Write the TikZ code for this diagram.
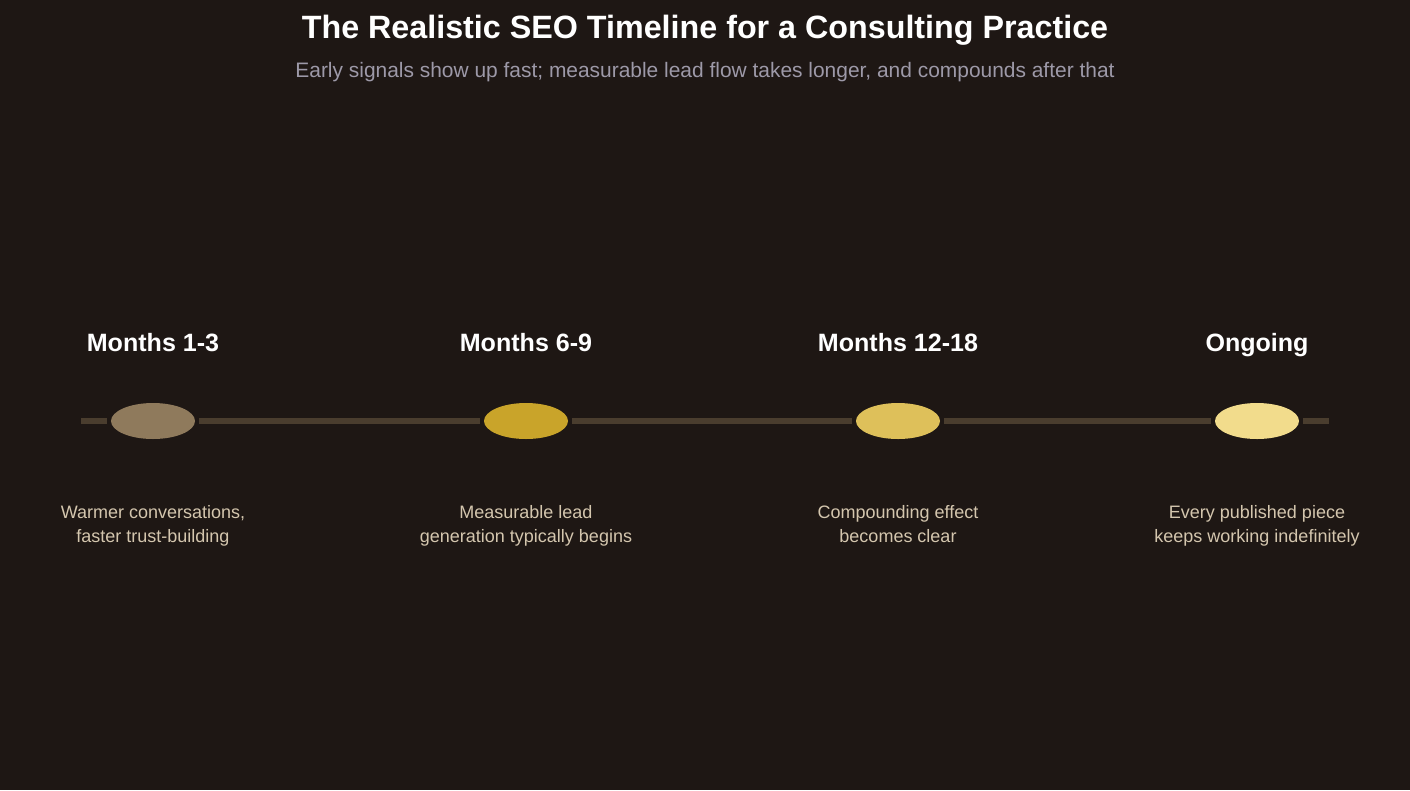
\documentclass[tikz,border=0pt]{standalone}
\usepackage{fontspec}
\setmainfont{Liberation Sans}
\usetikzlibrary{shapes.geometric}

\definecolor{bg}{HTML}{1E1714}
\definecolor{rail}{HTML}{4A3D2E}
\definecolor{subgray}{HTML}{9D99A8}
\definecolor{desctext}{HTML}{D4C6AE}
\definecolor{phaseA}{HTML}{8F7A5C}
\definecolor{phaseB}{HTML}{C9A42A}
\definecolor{phaseC}{HTML}{DEC05A}
\definecolor{phaseD}{HTML}{F2DC8C}

\begin{document}
\begin{tikzpicture}[
        x=0.75pt, y=-0.75pt,
        font=\sffamily\upshape,
        dot/.style={ellipse, minimum width=63pt, minimum height=27pt,
            inner sep=0pt, outer sep=3pt},
        phase/.style={anchor=base, font=\fontsize{18.8}{22}\selectfont\bfseries,
            text=white},
        desc/.style={anchor=base, font=\fontsize{13.5}{17.6}\selectfont,
            text=desctext, align=center},
        rail line/.style={draw=rail, line width=4pt}
        ]
            % Hintergrund
            \fill [bg] (0,0) rectangle (1410,790);
            \useasboundingbox (0,0) rectangle (1410,790);

            % Titel
            \node (title) at (705,38) [anchor=base, text=white,
                font=\fontsize{24.2}{28}\selectfont\bfseries]
                {The Realistic SEO Timeline for a Consulting Practice};
            \node (subtitle) at (705,77) [anchor=base, text=subgray,
                font=\fontsize{15.7}{18}\selectfont]
                {Early signals show up fast; measurable lead flow takes longer, and compounds after that};

            % Punkte
            \node (p1) at (153,421) [dot, fill=phaseA] {};
            \node (p2) at (526,421) [dot, fill=phaseB] {};
            \node (p3) at (898,421) [dot, fill=phaseC] {};
            \node (p4) at (1257,421) [dot, fill=phaseD] {};
            \coordinate (railstart) at (81,421);
            \coordinate (railend) at (1329,421);

            % Linie
            \draw [rail line]   (railstart) -- (p1)
                                (p1) -- (p2)
                                (p2) -- (p3)
                                (p3) -- (p4)
                                (p4) -- (railend);

            % Beschriftung
            \node (h1) at (153,351) [phase] {Months 1-3};
            \node (h2) at (526,351) [phase] {Months 6-9};
            \node (h3) at (898,351) [phase] {Months 12-18};
            \node (h4) at (1257,351) [phase] {Ongoing};

            \node (d1) at (153,542) [desc] {Warmer conversations,\\faster trust-building};
            \node (d2) at (526,542) [desc] {Measurable lead\\generation typically begins};
            \node (d3) at (898,542) [desc] {Compounding effect\\becomes clear};
            \node (d4) at (1257,542) [desc] {Every published piece\\keeps working indefinitely};

        \end{tikzpicture}
\end{document}
